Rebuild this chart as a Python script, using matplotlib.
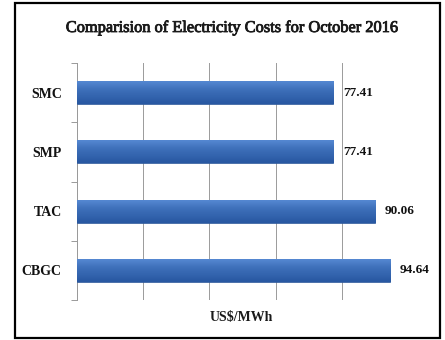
import matplotlib
matplotlib.use("Agg")
import matplotlib.pyplot as plt
import numpy as np
from matplotlib.patches import Rectangle
import matplotlib.patheffects as pe

categories = ["CBGC", "TAC", "SMP", "SMC"]
values = [94.64, 90.06, 77.41, 77.41]
value_labels = ["94.64", "90.06", "77.41", "77.41"]
title = "Comparision of Electricity Costs for October 2016"
xlabel = "US$/MWh"

W, H = 445, 340
fig = plt.figure(figsize=(W / 100, H / 100), dpi=100)
fig.patch.set_facecolor("white")

serif = ["Liberation Serif", "DejaVu Serif"]
heavy = [pe.withStroke(linewidth=0.6, foreground="#1a1a1a")]

# frame around the whole chart
fig.add_artist(Rectangle((15.5 / W, 2 / H), (440 - 15.5) / W, (337 - 2) / H,
                         transform=fig.transFigure, fill=False,
                         edgecolor="black", linewidth=1.6))

left, right = 77 / W, 408 / W
top, bottom = 1 - 63 / H, 1 - 300 / H
ax = fig.add_axes([left, bottom, right - left, top - bottom])

y = np.arange(len(categories))
bar_h = 0.39
bars = ax.barh(y, values, height=bar_h, color="#3a6cbf", edgecolor="#2d5796",
               linewidth=0.5, zorder=3)

# vertical shading inside each bar: lighter top edge, darker bottom edge
shade = np.array([0.0, 0.2, 0.4, 0.55, 0.65, 0.75, 0.85, 1.0]).reshape(-1, 1)
top_col = np.array([0x55, 0x88, 0xd2]) / 255
bot_col = np.array([0x28, 0x58, 0xa2]) / 255
grad = (top_col[None, None, :] * (1 - shade[..., None])
        + bot_col[None, None, :] * shade[..., None])
for b, yi, v in zip(bars, y, values):
    im = ax.imshow(grad, extent=(0, v, yi - bar_h / 2, yi + bar_h / 2),
                   origin="lower", aspect="auto", zorder=3.5,
                   interpolation="bicubic")
    im.set_clip_path(b)
    im.set_data(grad[::-1])

ax.set_xlim(0, 100)
ax.set_ylim(-0.5, len(categories) - 0.5)
ax.set_xticks([0, 20, 40, 60, 80, 100])
ax.set_xticklabels([])
ax.tick_params(axis="x", length=0)
ax.grid(axis="x", color="#9a9a9a", linewidth=0.7, zorder=0)

ax.set_yticks([i - 0.5 for i in range(len(categories) + 1)])
ax.set_yticklabels([])
ax.tick_params(axis="y", length=4, color="#9a9a9a", width=0.7)
ax.set_yticks(list(y), minor=True)
ax.set_yticklabels(categories, minor=True, family=serif, fontweight="bold",
                   fontsize=10, color="#111111")
ax.tick_params(axis="y", which="minor", length=0, pad=11)

for s in ["top", "right", "bottom"]:
    ax.spines[s].set_visible(False)
ax.spines["left"].set_color("#9a9a9a")
ax.spines["left"].set_linewidth(0.7)

for yi, v, lab in zip(y, values, value_labels):
    ax.annotate(lab, (v, yi), xytext=(7, 0), textcoords="offset points",
                va="center", ha="left", family=serif, fontweight="bold",
                fontsize=9.5, color="#111111")

fig.text(232 / W, 1 - 28 / H, title, ha="center", va="center",
         family=serif, fontsize=11.8, color="#1a1a1a", path_effects=heavy)
fig.text(241 / W, 1 - 318 / H, xlabel, ha="center", va="center",
         family=serif, fontweight="bold", fontsize=10, color="#1a1a1a")

fig.savefig("out.png", dpi=100)
